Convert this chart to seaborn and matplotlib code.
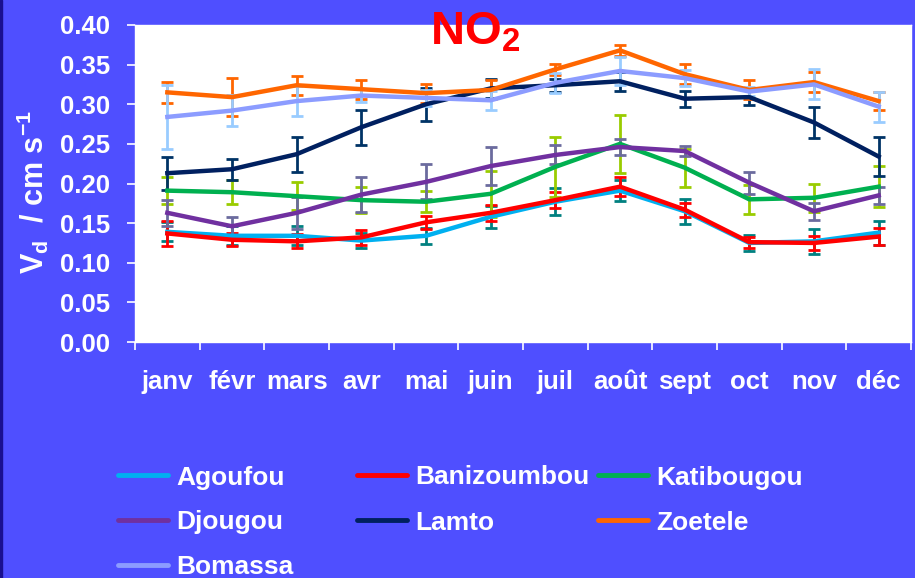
import numpy as np
import pandas as pd
import matplotlib
matplotlib.use("Agg")
import matplotlib.pyplot as plt
from matplotlib.lines import Line2D
from matplotlib.patches import Rectangle
import seaborn as sns

plt.rcParams['font.family'] = ['Liberation Sans', 'DejaVu Sans']
plt.rcParams['mathtext.fontset'] = 'custom'
plt.rcParams['mathtext.rm'] = 'Liberation Sans:bold'
plt.rcParams['mathtext.bf'] = 'Liberation Sans:bold'
plt.rcParams['mathtext.it'] = 'Liberation Sans:bold'

months = ['janv', 'févr', 'mars', 'avr', 'mai', 'juin', 'juil', 'août',
          'sept', 'oct', 'nov', 'déc']
y_ticks = [0.00, 0.05, 0.10, 0.15, 0.20, 0.25, 0.30, 0.35, 0.40]

sites = ['Agoufou', 'Banizoumbou', 'Katibougou', 'Djougou', 'Lamto',
         'Zoetele', 'Bomassa']

agoufou = [0.139, 0.134, 0.134, 0.128, 0.134, 0.158, 0.177, 0.191, 0.165, 0.125, 0.127, 0.138]
agoufou_err = [0.012, 0.012, 0.012, 0.010, 0.010, 0.014, 0.017, 0.013, 0.016, 0.010, 0.016, 0.015]

banizoumbou = [0.137, 0.129, 0.127, 0.132, 0.151, 0.163, 0.179, 0.196, 0.167, 0.126, 0.125, 0.133]
banizoumbou_err = [0.016, 0.008, 0.009, 0.009, 0.008, 0.010, 0.010, 0.012, 0.009, 0.007, 0.009, 0.011]

katibougou = [0.191, 0.189, 0.184, 0.179, 0.177, 0.187, 0.221, 0.250, 0.220, 0.180, 0.182, 0.196]
katibougou_err = [0.017, 0.015, 0.018, 0.016, 0.013, 0.029, 0.038, 0.037, 0.024, 0.018, 0.018, 0.026]

djougou = [0.163, 0.146, 0.163, 0.186, 0.202, 0.222, 0.236, 0.246, 0.241, 0.201, 0.165, 0.185]
djougou_err = [0.016, 0.012, 0.020, 0.022, 0.022, 0.024, 0.012, 0.010, 0.006, 0.014, 0.011, 0.011]

lamto = [0.213, 0.218, 0.237, 0.271, 0.300, 0.320, 0.324, 0.329, 0.307, 0.309, 0.277, 0.234]
lamto_err = [0.021, 0.013, 0.022, 0.022, 0.021, 0.012, 0.008, 0.012, 0.010, 0.010, 0.020, 0.025]

zoetele = [0.315, 0.309, 0.324, 0.319, 0.314, 0.318, 0.344, 0.368, 0.338, 0.318, 0.328, 0.304]
zoetele_err = [0.013, 0.024, 0.012, 0.012, 0.012, 0.012, 0.007, 0.007, 0.013, 0.012, 0.013, 0.011]

bomassa = [0.284, 0.292, 0.304, 0.311, 0.308, 0.305, 0.327, 0.342, 0.333, 0.316, 0.325, 0.297]
bomassa_err = [0.040, 0.020, 0.019, 0.008, 0.010, 0.012, 0.013, 0.018, 0.010, 0.006, 0.019, 0.019]

values = [agoufou, banizoumbou, katibougou, djougou, lamto, zoetele, bomassa]
errors = [agoufou_err, banizoumbou_err, katibougou_err, djougou_err, lamto_err,
          zoetele_err, bomassa_err]

line_colors = {'Agoufou': '#00B0F0', 'Banizoumbou': '#FF0000',
               'Katibougou': '#00B050', 'Djougou': '#7030A0',
               'Lamto': '#002060', 'Zoetele': '#FF6600', 'Bomassa': '#8C9CFF'}
err_colors = {'Agoufou': '#008080', 'Banizoumbou': '#FF0000',
              'Katibougou': '#99CC00', 'Djougou': '#6B6B9E',
              'Lamto': '#003366', 'Zoetele': '#FF6600', 'Bomassa': '#99CCFF'}

rows = []
for site, vals, errs in zip(sites, values, errors):
    for i, m in enumerate(months):
        rows.append({'site': site, 'month': m, 'pos': i, 'vd': vals[i], 'err': errs[i]})
df = pd.DataFrame(rows)

BG = '#4F4FFF'
fig = plt.figure(figsize=(9.15, 5.78), dpi=100, facecolor=BG)
ax = fig.add_axes([135 / 915, 1 - 342 / 578, 776 / 915, 317 / 578])
ax.set_facecolor('white')

# error bars beneath the lines
for site in sites:
    sub = df[df['site'] == site]
    ax.errorbar(sub['pos'], sub['vd'], yerr=sub['err'], fmt='none',
                ecolor=err_colors[site], elinewidth=2, capsize=4, capthick=2,
                zorder=2)

sns.lineplot(data=df, x='pos', y='vd', hue='site', hue_order=sites,
             palette=line_colors, linewidth=3.2, legend=False, sort=False,
             ax=ax, zorder=3)

ax.set_xlim(-0.5, 11.5)
ax.set_ylim(0, 0.40)
ax.set_xlabel('')
ax.set_ylabel('')

ax.set_xticks(range(len(months)))
ax.set_xticklabels(months)
ax.set_xticks(np.arange(-0.5, 12, 1), minor=True)
ax.tick_params(axis='x', which='major', length=0, pad=20, labelsize=18.5,
               labelcolor='white')
ax.tick_params(axis='x', which='minor', length=6, width=1.2, color='white')
ax.set_yticks(y_ticks)
ax.set_yticklabels([f'{v:.2f}' for v in y_ticks])
ax.tick_params(axis='y', length=6, width=1.2, color='white', pad=12,
               labelsize=18.5, labelcolor='white')
for lab in ax.get_xticklabels() + ax.get_yticklabels():
    lab.set_fontweight('bold')
for sp in ax.spines.values():
    sp.set_color('white')
    sp.set_linewidth(1)

fig.text(475 / 915, 1 - 44 / 578, r'NO$_{\mathbf{2}}$', ha='center',
         va='baseline', color='#FF0000', fontsize=34, fontweight='bold')

fig.text(33 / 915, 1 - 192 / 578, r'V$_{\mathbf{d}}$  / cm s$^{\mathbf{-1}}$',
         rotation=90, ha='center', va='center', color='white', fontsize=22,
         fontweight='bold')

# legend laid out in rows of three
legend_x = [118, 357, 598]
legend_y = [475, 520, 565]
for k, site in enumerate(sites):
    r, c = divmod(k, 3)
    x0 = legend_x[c]
    y0 = 1 - legend_y[r] / 578
    fig.add_artist(Line2D([x0 / 915, (x0 + 50) / 915], [y0, y0],
                          transform=fig.transFigure, color=line_colors[site],
                          linewidth=3.5, solid_capstyle='round'))
    fig.text((x0 + 58) / 915, y0, site, ha='left', va='center_baseline',
             color='white', fontsize=19, fontweight='bold')

fig.add_artist(Rectangle((0, 0), 2 / 915, 1, transform=fig.transFigure,
                         color='#1A1090', zorder=0))

fig.savefig('out.png', dpi=100, facecolor=BG)
